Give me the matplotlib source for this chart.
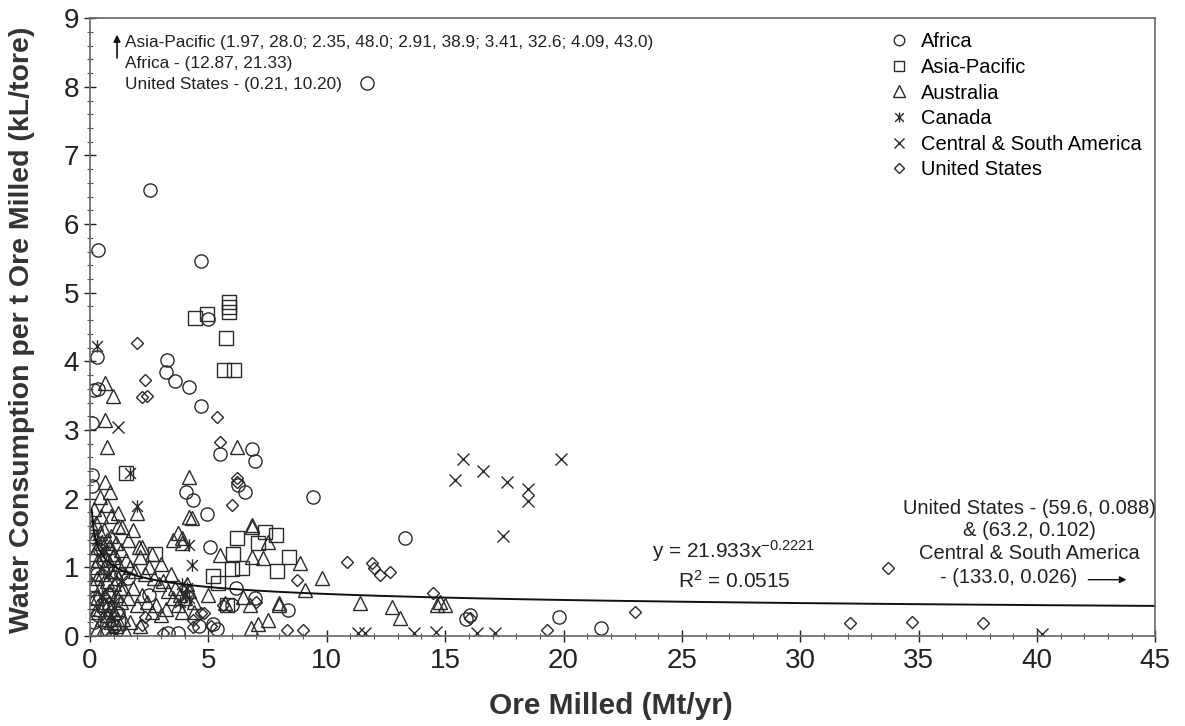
import matplotlib
matplotlib.use("Agg")
import matplotlib.pyplot as plt
import numpy as np
from matplotlib.path import Path

plt.rcParams['font.family'] = ['Liberation Sans', 'DejaVu Sans']
plt.rcParams['mathtext.default'] = 'regular'

# ---------------- data (Ore milled Mt/yr, water kL/t) ----------------
africa_x = [11.7, 2.55, 0.35, 4.7, 5.0, 0.3, 3.25, 3.2, 3.6, 4.2, 4.7, 0.15, 0.35, 0.1,
            6.85, 6.95, 5.5, 6.25, 6.55, 0.08, 0.1, 4.05, 4.35, 4.95, 9.4, 13.3, 5.05,
            6.15, 6.95, 8.35, 16.05, 19.8, 21.6, 15.9, 3.3, 3.7, 5.2, 5.35, 1.2, 0.2,
            0.5, 0.3, 0.6, 0.4, 0.8, 1.0, 0.15, 0.35, 0.7, 1.3, 4.6, 6.0, 2.5, 1.6]
africa_y = [8.05, 6.5, 5.62, 5.46, 4.62, 4.07, 4.02, 3.85, 3.72, 3.62, 3.35, 3.58, 3.6, 3.1,
            2.72, 2.55, 2.65, 2.2, 2.1, 2.35, 2.18, 2.1, 1.98, 1.77, 2.02, 1.42, 1.3,
            0.7, 0.55, 0.38, 0.3, 0.27, 0.12, 0.25, 0.04, 0.04, 0.18, 0.1, 0.33, 0.55,
            0.45, 0.9, 1.1, 1.25, 0.6, 0.15, 0.2, 0.3, 0.05, 0.9, 0.15, 0.45, 0.6, 0.85]

asia_x = [4.45, 4.95, 5.85, 5.85, 5.85, 5.75, 5.65, 6.1, 1.5, 2.75, 6.2, 6.05, 6.0,
          7.4, 7.85, 7.1, 8.4, 7.9, 5.2, 5.4, 6.4, 5.8, 1.2]
asia_y = [4.63, 4.69, 4.86, 4.79, 4.72, 4.34, 3.87, 3.87, 2.38, 1.2, 1.43, 1.2, 0.97,
          1.52, 1.47, 1.35, 1.15, 0.94, 0.87, 0.77, 0.99, 0.45, 0.19]

aus_x = [0.65, 0.95, 0.65, 0.7, 4.2, 0.65, 0.85, 0.42, 0.72, 1.2, 2.0, 1.35, 4.2, 6.2,
         6.85, 3.7, 3.5, 2.05, 8.85, 9.8, 9.1, 8.0, 11.4, 12.75, 13.1, 14.65, 15.0, 14.8,
         4.3, 6.85, 7.5, 6.85, 7.3, 5.5, 6.45, 6.75, 8.0, 7.5, 5.7, 3.9, 3.9, 7.1, 6.8,
         0.1, 0.2, 0.3, 0.15, 0.4, 0.5, 0.6, 0.7, 0.8, 0.9, 1.0, 1.1, 1.2, 1.3, 1.5, 1.7,
         1.9, 2.1, 2.3, 2.5, 2.7, 2.9, 3.1, 3.3, 3.6, 3.8, 4.0, 4.2, 4.4, 3.7, 3.4, 3.0,
         2.6, 2.2, 1.8, 1.6, 0.2, 0.3, 0.1, 0.4, 0.5, 0.6, 0.7, 0.8, 0.9, 1.0, 1.1, 1.2,
         1.3, 1.4, 1.6, 1.8, 2.0, 2.2, 2.4, 2.6, 2.8, 3.0, 3.2, 0.1, 0.2, 0.3, 0.4, 0.5,
         0.6, 0.7, 0.8, 0.9, 1.0, 1.1, 1.2, 1.4, 1.5, 0.3, 0.6, 0.9, 1.7, 2.1, 0.15, 0.45,
         0.25, 0.55, 0.75, 0.95, 1.05, 1.25, 0.35, 0.65, 0.85, 1.15, 3.5, 4.1, 3.9, 4.4,
         5.0, 1.2, 0.9]
aus_y = [3.68, 3.5, 3.15, 2.75, 2.31, 2.24, 2.1, 2.02, 1.91, 1.79, 1.79, 1.59, 1.73, 2.75,
         1.59, 1.5, 1.4, 1.3, 1.06, 0.85, 0.67, 0.48, 0.48, 0.42, 0.26, 0.45, 0.45, 0.5,
         1.72, 1.62, 1.37, 1.15, 1.14, 1.18, 0.57, 0.45, 0.45, 0.23, 0.48, 1.35, 1.43, 0.18, 0.12,
         1.6, 1.45, 1.3, 1.2, 1.5, 1.35, 1.55, 1.4, 1.3, 1.45, 1.2, 1.35, 1.05, 1.25, 1.1, 1.0,
         0.95, 1.15, 0.9, 1.0, 0.85, 0.75, 0.8, 0.65, 0.7, 0.6, 0.55, 0.65, 0.5, 0.45, 0.9, 1.05,
         1.2, 1.3, 1.55, 1.4, 1.0, 0.85, 0.75, 0.7, 0.9, 1.0, 0.8, 0.65, 0.95, 0.75, 0.6, 0.85,
         0.5, 0.7, 0.55, 0.7, 0.45, 0.6, 0.5, 0.35, 0.45, 0.3, 0.4, 0.5, 0.35, 0.55, 0.4, 0.25,
         0.45, 0.3, 0.5, 0.2, 0.35, 0.15, 0.4, 0.25, 0.05, 0.1, 0.12, 0.05, 0.2, 0.15, 1.85, 1.75,
         1.65, 1.2, 1.1, 1.15, 0.95, 0.7, 1.1, 0.6, 0.4, 0.25, 0.55, 0.75, 0.35, 0.35,
         0.6, 1.6, 1.75]

canada_x = [0.3, 1.7, 2.0, 4.3, 4.2, 4.1, 4.0, 3.9, 0.5, 0.8, 1.0, 0.3, 1.3, 0.6, 4.2, 3.8, 0.9]
canada_y = [4.22, 2.37, 1.9, 1.03, 1.32, 0.7, 0.6, 0.75, 0.6, 0.9, 0.5, 1.4, 0.8, 1.25, 0.55, 0.5, 0.3]

csa_x = [1.2, 15.4, 15.75, 16.6, 17.6, 18.5, 18.5, 19.9, 17.45, 16.35, 17.1, 11.3, 11.6,
         13.7, 14.6, 40.2, 1.1, 0.9]
csa_y = [3.05, 2.27, 2.58, 2.41, 2.25, 2.14, 1.97, 2.58, 1.46, 0.04, 0.04, 0.04, 0.04,
         0.04, 0.06, 0.03, 0.05, 0.1]

us_x = [2.0, 2.33, 2.2, 2.4, 5.37, 5.5, 6.2, 6.0, 10.85, 11.9, 12.0, 12.25, 12.67, 8.75,
        14.5, 8.3, 9.0, 16.05, 19.3, 23.0, 33.7, 32.1, 34.7, 37.7, 5.6, 4.8, 4.35, 2.3,
        2.2, 3.1, 4.35, 4.7, 6.2, 5.1, 7.0]
us_y = [4.27, 3.73, 3.48, 3.5, 3.19, 2.83, 2.3, 1.91, 1.08, 1.06, 0.99, 0.89, 0.93, 0.81,
        0.63, 0.09, 0.09, 0.26, 0.09, 0.35, 0.99, 0.19, 0.2, 0.19, 0.45, 0.33, 0.13, 0.27,
        0.16, 0.05, 0.23, 0.33, 2.25, 0.15, 0.5]

# power-law trend from the chart's equation (x in t/yr)
fit_a = 21.933
fit_b = -0.2221
fit_r2 = 0.0515

series = ["Africa", "Asia-Pacific", "Australia", "Canada", "Central & South America", "United States"]

# ---------------- figure ----------------
fig = plt.figure(figsize=(11.85, 7.26), dpi=100)
ax = fig.add_axes([0.076, 0.124, 0.899, 0.851])

star = Path([(-1, -1), (1, 1), (-1, 1), (1, -1), (0, -1.15), (0, 1.15)],
            [Path.MOVETO, Path.LINETO, Path.MOVETO, Path.LINETO, Path.MOVETO, Path.LINETO])

ec = '#2a2a2a'
kw = dict(linestyle='none', markerfacecolor='none', markeredgecolor=ec, markeredgewidth=1.0)
ax.plot(africa_x, africa_y, marker='o', markersize=9.5, label=series[0], **kw)
ax.plot(asia_x, asia_y, marker='s', markersize=9.5, label=series[1], **kw)
ax.plot(aus_x, aus_y, marker='^', markersize=10, label=series[2], **kw)
ax.plot(canada_x, canada_y, marker=star, markersize=9, label=series[3], **kw)
ax.plot(csa_x, csa_y, marker='x', markersize=9, label=series[4], **kw)
ax.plot(us_x, us_y, marker='D', markersize=6.5, label=series[5], **kw)

xf = np.linspace(0.07, 45, 600)
ax.plot(xf, fit_a * (xf * 1e6) ** fit_b, color='#111111', lw=1.4)

ax.set_xlim(0, 45)
ax.set_ylim(0, 9)
ax.set_xticks(np.arange(0, 46, 5))
ax.set_xticks(np.arange(0, 46, 1), minor=True)
ax.set_yticks(np.arange(0, 10, 1))
ax.set_yticks(np.arange(0, 9.01, 0.2), minor=True)
ax.tick_params(axis='both', which='major', direction='inout', length=8, width=1, labelsize=20, colors='#222222')
ax.tick_params(axis='both', which='minor', direction='inout', length=5, width=0.8, colors='#555555')
ax.tick_params(axis='x', pad=5)
ax.tick_params(axis='y', pad=4)
for s in ax.spines.values():
    s.set_color('#666666')
    s.set_linewidth(1.2)

ax.set_xlabel("Ore Milled (Mt/yr)", fontsize=21.5, fontweight='bold', color='#333333')
ax.set_ylabel("Water Consumption per t Ore Milled (kL/tore)", fontsize=20.5, fontweight='bold',
              color='#333333')
ax.xaxis.set_label_coords(0.489, -0.09)
ax.yaxis.set_label_coords(-0.052, 0.495)

leg = ax.legend(loc='upper right', frameon=False, fontsize=14.5, handlelength=1.0,
                handletextpad=0.55, labelspacing=0.33, markerscale=0.8,
                bbox_to_anchor=(1.0, 1.0), borderaxespad=0.3)

tc = '#222222'
# annotations (top-left)
ax.annotate("", xy=(1.14, 8.8), xytext=(1.14, 8.38),
            arrowprops=dict(arrowstyle='-|>', color='#111111', lw=1.2, mutation_scale=10))
ax.text(1.48, 8.64, "Asia-Pacific (1.97, 28.0; 2.35, 48.0; 2.91, 38.9; 3.41, 32.6; 4.09, 43.0)",
        fontsize=12.4, va='center', ha='left', color=tc)
ax.text(1.48, 8.34, "Africa - (12.87, 21.33)", fontsize=12.4, va='center', ha='left', color=tc)
ax.text(1.48, 8.04, "United States - (0.21, 10.20)", fontsize=12.4, va='center', ha='left', color=tc)

# annotations (right)
ax.text(39.67, 1.86, "United States - (59.6, 0.088)", fontsize=14.5, ha='center', va='center', color=tc)
ax.text(39.67, 1.53, "& (63.2, 0.102)", fontsize=14.5, ha='center', va='center', color=tc)
ax.text(39.67, 1.2, "Central & South America", fontsize=14.5, ha='center', va='center', color=tc)
ax.text(41.7, 0.85, "- (133.0, 0.026)", fontsize=14.5, ha='right', va='center', color=tc)
ax.annotate("", xy=(43.9, 0.82), xytext=(42.05, 0.82),
            arrowprops=dict(arrowstyle='-|>', color='#111111', lw=1.0, mutation_scale=10))

# equation
ax.text(23.75, 1.24, "y = 21.933x$^{-0.2221}$", fontsize=15, ha='left', va='center', color=tc)
ax.text(27.2, 0.81, "R$^2$ = 0.0515", fontsize=15, ha='center', va='center', color=tc)

fig.savefig("out.png", dpi=100)
